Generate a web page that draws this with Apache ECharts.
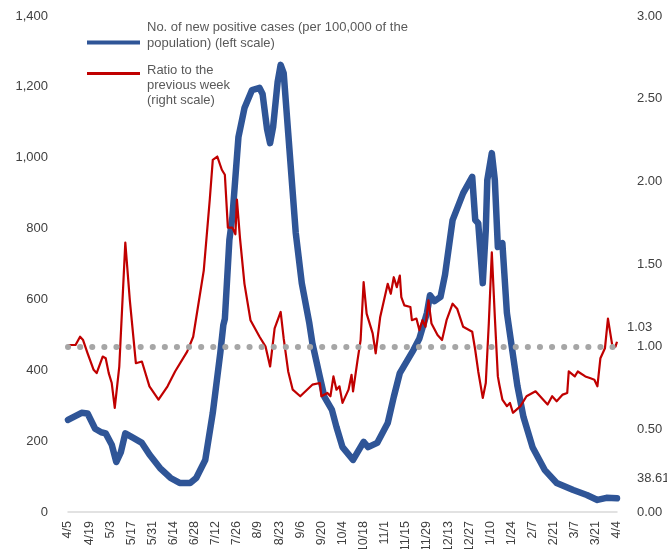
<!DOCTYPE html>
<html>
<head>
<meta charset="utf-8">
<script src="https://cdn.jsdelivr.net/npm/echarts@6/dist/echarts.min.js"></script>
<style>
html,body{margin:0;padding:0;background:#fff;}
#chart{width:667px;height:549px;}
</style>
</head>
<body>
<div id="chart"></div>
<script>
// x tick labels (every 14 days, day index 0..364)
const dateLabels = ['4/5','4/19','5/3','5/17','5/31','6/14','6/28','7/12','7/26','8/9','8/23','9/6','9/20','10/4','10/18','11/1','11/15','11/29','12/13','12/27','1/10','1/24','2/7','2/21','3/7','3/21','4/4'];

// New positive cases per 100,000 (left scale): day index & value
const caseDays = [0,9,13,18,22,25,29,32,35,38,43,49,54,61,68,74,81,85,91,96,101,103,104,107,109,113,117,122,127,129,132,134,136,139,141,143,146,151,155,160,162,167,170,175,178,182,189,192,196,199,205,212,216,220,229,233,238,240,243,247,250,255,262,268,270,272,275,277,278,281,283,285,288,291,298,302,308,316,324,335,344,351,357,364];
const caseVals = [260,280,278,235,225,222,190,141,168,222,210,195,162,124,96,82,82,96,147,280,450,528,545,768,833,1058,1140,1191,1197,1180,1080,1041,1087,1214,1262,1239,1070,788,646,533,477,381,325,288,240,183,147,169,198,183,195,251,325,392,457,490,562,612,595,607,670,824,900,946,824,815,646,796,937,1013,937,748,759,562,355,268,183,119,82,62,48,34,40,38.61];

// Ratio to the previous week (right scale): day index & value
const ratioDays = [0,5,8,10,13,17,19,23,25,27,29,31,34,38,41,45,49,54,60,66,71,79,83,90,94,96,99,102,104,106,109,111,112,114,117,121,127,131,134,137,141,143,146,149,154,162,167,168,172,174,176,178,180,182,186,188,189,192,194,196,198,202,204,207,210,212,214,216,218,220,221,223,227,228,231,233,235,237,239,241,245,248,251,255,258,262,268,270,272,275,277,279,281,283,285,286,288,291,293,295,300,304,310,313,316,318,321,324,328,331,332,336,338,343,346,349,351,353,356,358,361,363,364];
const ratioVals = [1.01,1.01,1.06,1.04,0.96,0.86,0.84,0.94,0.93,0.84,0.78,0.63,0.88,1.63,1.28,0.90,0.91,0.76,0.68,0.76,0.85,0.97,1.06,1.46,1.89,2.13,2.15,2.07,2.04,1.72,1.72,1.68,1.89,1.66,1.38,1.16,1.06,1.00,0.88,1.11,1.21,1.05,0.85,0.74,0.70,0.77,0.78,0.70,0.72,0.70,0.82,0.74,0.76,0.66,0.74,0.83,0.73,0.92,1.04,1.39,1.20,1.08,0.96,1.18,1.30,1.38,1.32,1.42,1.36,1.43,1.30,1.25,1.24,1.16,1.17,1.10,1.16,1.12,1.28,1.14,1.07,1.04,1.16,1.26,1.23,1.12,1.09,0.98,0.85,0.69,0.78,1.14,1.57,1.18,0.82,0.77,0.68,0.64,0.66,0.60,0.64,0.70,0.73,0.70,0.67,0.65,0.70,0.67,0.71,0.72,0.85,0.82,0.85,0.82,0.81,0.80,0.76,0.93,0.99,1.17,1.00,1.00,1.03];

const refRatio = 1.0;

const caseData = caseDays.map((d,i)=>[d,caseVals[i]]);
const ratioData = ratioDays.map((d,i)=>[d,ratioVals[i]]);

const FONT = '"Liberation Sans", Arial, sans-serif';
const chart = echarts.init(document.getElementById('chart'), null, {renderer:'canvas'});
const NAME1 = 'No. of new positive cases (per 100,000 of the population) (left scale)';
const NAME2 = 'Ratio to the previous week (right scale)';
const LEG1 = ['No. of new positive cases (per 100,000 of the','population) (left scale)'];
const LEG2 = ['Ratio to the','previous week','(right scale)'];

chart.setOption({
  animation:false,
  backgroundColor:'#fff',
  grid:{left:68,right:50,top:16,bottom:37,containLabel:false,outerBoundsMode:'none'},
  legend:[
    {data:[NAME1],left:87,top:21,padding:0,orient:'vertical',icon:'rect',itemWidth:53,itemHeight:4,
     selectedMode:false,
     formatter:()=>LEG1.map(s=>'{t|'+s+'}').join('\n')+'\n{e| }',
     textStyle:{fontFamily:FONT,fontSize:13,color:'#595959',
       rich:{t:{fontFamily:FONT,fontSize:13,lineHeight:16,color:'#595959',padding:[0,0,0,2]},
             e:{fontSize:10,lineHeight:14}}}},
    {data:[NAME2],left:87,top:46,padding:0,orient:'vertical',icon:'rect',itemWidth:53,itemHeight:3,
     selectedMode:false,
     formatter:()=>'{e| }\n'+LEG2.map(s=>'{t|'+s+'}').join('\n'),
     textStyle:{fontFamily:FONT,fontSize:13,color:'#595959',
       rich:{t:{fontFamily:FONT,fontSize:13,lineHeight:15,color:'#595959',padding:[0,0,0,2]},
             e:{fontSize:10,lineHeight:24}}}}
  ],
  xAxis:{
    type:'value',min:0,max:364,interval:14,
    axisLine:{show:true,lineStyle:{color:'#d9d9d9',width:1.5}},
    axisTick:{show:false},splitLine:{show:false},
    axisLabel:{rotate:90,margin:9,fontFamily:FONT,fontSize:12.5,color:'#404040',
      formatter:v=>dateLabels[Math.round(v/14)]}
  },
  yAxis:[
    {type:'value',min:0,max:1400,interval:200,
     axisLine:{show:false},axisTick:{show:false},splitLine:{show:false},
     axisLabel:{margin:20,fontFamily:FONT,fontSize:13,color:'#404040',
       formatter:v=>v.toLocaleString('en-US')}},
    {type:'value',min:0,max:3,interval:0.5,
     axisLine:{show:false},axisTick:{show:false},splitLine:{show:false},
     axisLabel:{margin:20,fontFamily:FONT,fontSize:13,color:'#404040',
       formatter:v=>v.toFixed(2)}}
  ],
  series:[
    {name:NAME1,type:'line',yAxisIndex:0,data:caseData,showSymbol:false,symbol:'none',
     lineStyle:{color:'#2F5597',width:6.5,join:'round',cap:'round'},itemStyle:{color:'#2F5597'},
     z:2,
     endLabel:{show:true,formatter:p=>p.value[1].toFixed(2),fontFamily:FONT,fontSize:13,color:'#404040',offset:[12,-20]}},
    {name:NAME2,type:'line',yAxisIndex:1,data:ratioData,showSymbol:false,symbol:'none',
     lineStyle:{color:'#C00000',width:2.2,join:'round'},itemStyle:{color:'#C00000'},
     z:3,
     endLabel:{show:true,formatter:p=>p.value[1].toFixed(2),fontFamily:FONT,fontSize:13,color:'#404040',offset:[2,-14]},
     markLine:{silent:true,symbol:'none',label:{show:false},
       lineStyle:{color:'#a6a6a6',width:6,type:[0.1,12],cap:'round'},
       data:[{yAxis:refRatio}]}}
  ]
});
</script>
</body>
</html>
